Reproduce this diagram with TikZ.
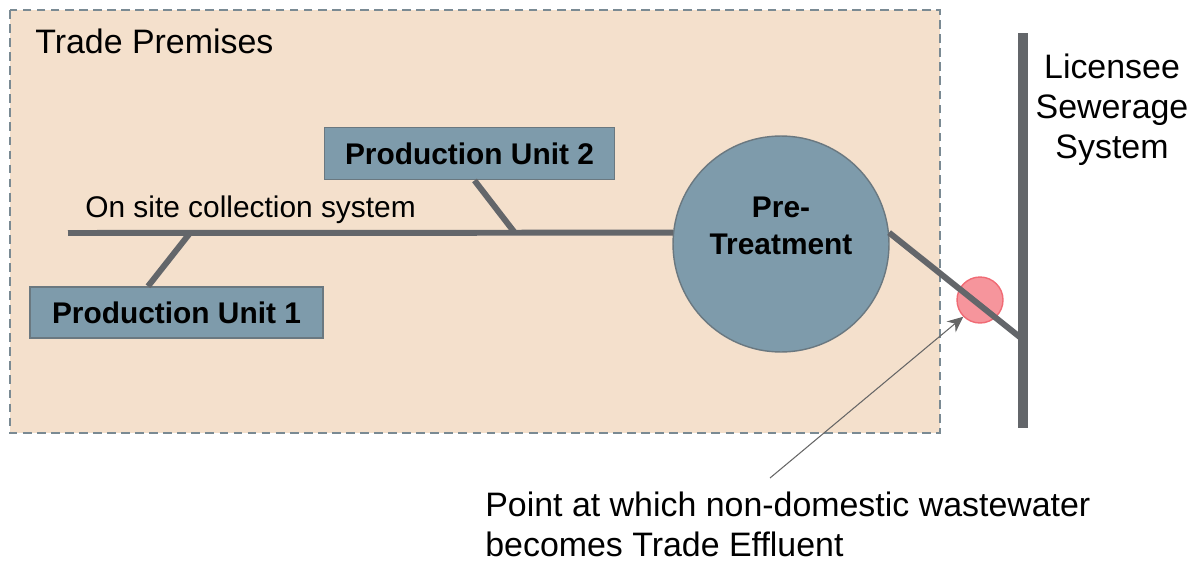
\documentclass[tikz,border=0pt]{standalone}
\usepackage{fontspec}
\setmainfont{Liberation Sans}
\usetikzlibrary{arrows.meta, positioning}
\definecolor{premfill}{HTML}{F4E0CC}
\definecolor{premedge}{HTML}{7A8A93}
\definecolor{unitfill}{HTML}{7E9BAB}
\definecolor{unitedge}{HTML}{6A7880}
\definecolor{pipegray}{HTML}{63666A}
\definecolor{tepfill}{HTML}{F6959C}
\definecolor{tepedge}{HTML}{F06B75}

\begin{document}
\begin{tikzpicture}[x=0.02cm, y=-0.02cm,
  pipe/.style={draw=pipegray, line width=3.4pt},
  unitbox/.style={draw=unitedge, fill=unitfill, line width=0.8pt,
    minimum width=5.8cm, minimum height=1.05cm,
    font=\fontsize{17}{20}\selectfont\bfseries},
  bigtext/.style={font=\fontsize{19.3}{22.7}\selectfont, inner sep=0pt}
]
  \useasboundingbox (0,0) rectangle (1199,561);

  % Trade premises area
  \draw[premedge, fill=premfill, dashed, dash pattern=on 5pt off 3pt, line width=0.8pt]
    (10,10) rectangle (940,433);
  \node[bigtext, anchor=west] (prem) at (35,41) {Trade Premises};

  % Production units and treatment
  \node[unitbox] (u2) at (469.5,153.5) {Production Unit 2};
  \node[unitbox, minimum width=5.86cm, minimum height=1.02cm] (u1) at (176.5,312.5) {Production Unit 1};
  \node[circle, draw=unitedge, fill=unitfill, line width=0.8pt, minimum size=4.32cm] (pre) at (781,244) {};
  \node[align=center, font=\fontsize{17}{21}\selectfont\bfseries, inner sep=0pt]
    (pretext) at ([yshift=0.37cm]pre.center) {Pre-\\Treatment};

  % On site collection system
  \coordinate (colstart) at (68,233);
  \coordinate (j1) at (190,233);
  \coordinate (j2) at (515,233);
  \draw[pipe] (colstart) -- (pre.174);
  \draw[pipe] ([xshift=-0.57cm]u1.north) -- (j1);
  \draw[pipe] ([xshift=0.1cm]u2.south) -- (j2);
  \node[font=\fontsize{17}{20}\selectfont, inner sep=0pt, anchor=west] (col) at (85,210) {On site collection system};

  % Licensee sewer
  \coordinate (sewtop) at (1023,33);
  \coordinate (sewbot) at (1023,428);
  \coordinate (sewin) at (1021,338);
  \node[circle, fill=tepfill, draw=tepedge, line width=0.8pt, minimum size=0.92cm] (tep) at (980,300) {};
  \draw[pipe] (pre.6) -- (sewin);
  \draw[draw=pipegray, line width=5.6pt] (sewtop) -- (sewbot);
  \node[bigtext, align=center] (sew) at (1112,110) {Licensee\\Sewerage\\System};

  % Trade effluent point
  \node[bigtext, align=left, anchor=west] (note) at (485,524)
    {Point at which non-domestic wastewater\\becomes Trade Effluent};
  \coordinate (tail) at (770,478);
  \draw[gray!80!black, line width=0.6pt, -{Stealth[length=9pt, width=8pt]}] (tail) -- (tep.225);
\end{tikzpicture}
\end{document}
